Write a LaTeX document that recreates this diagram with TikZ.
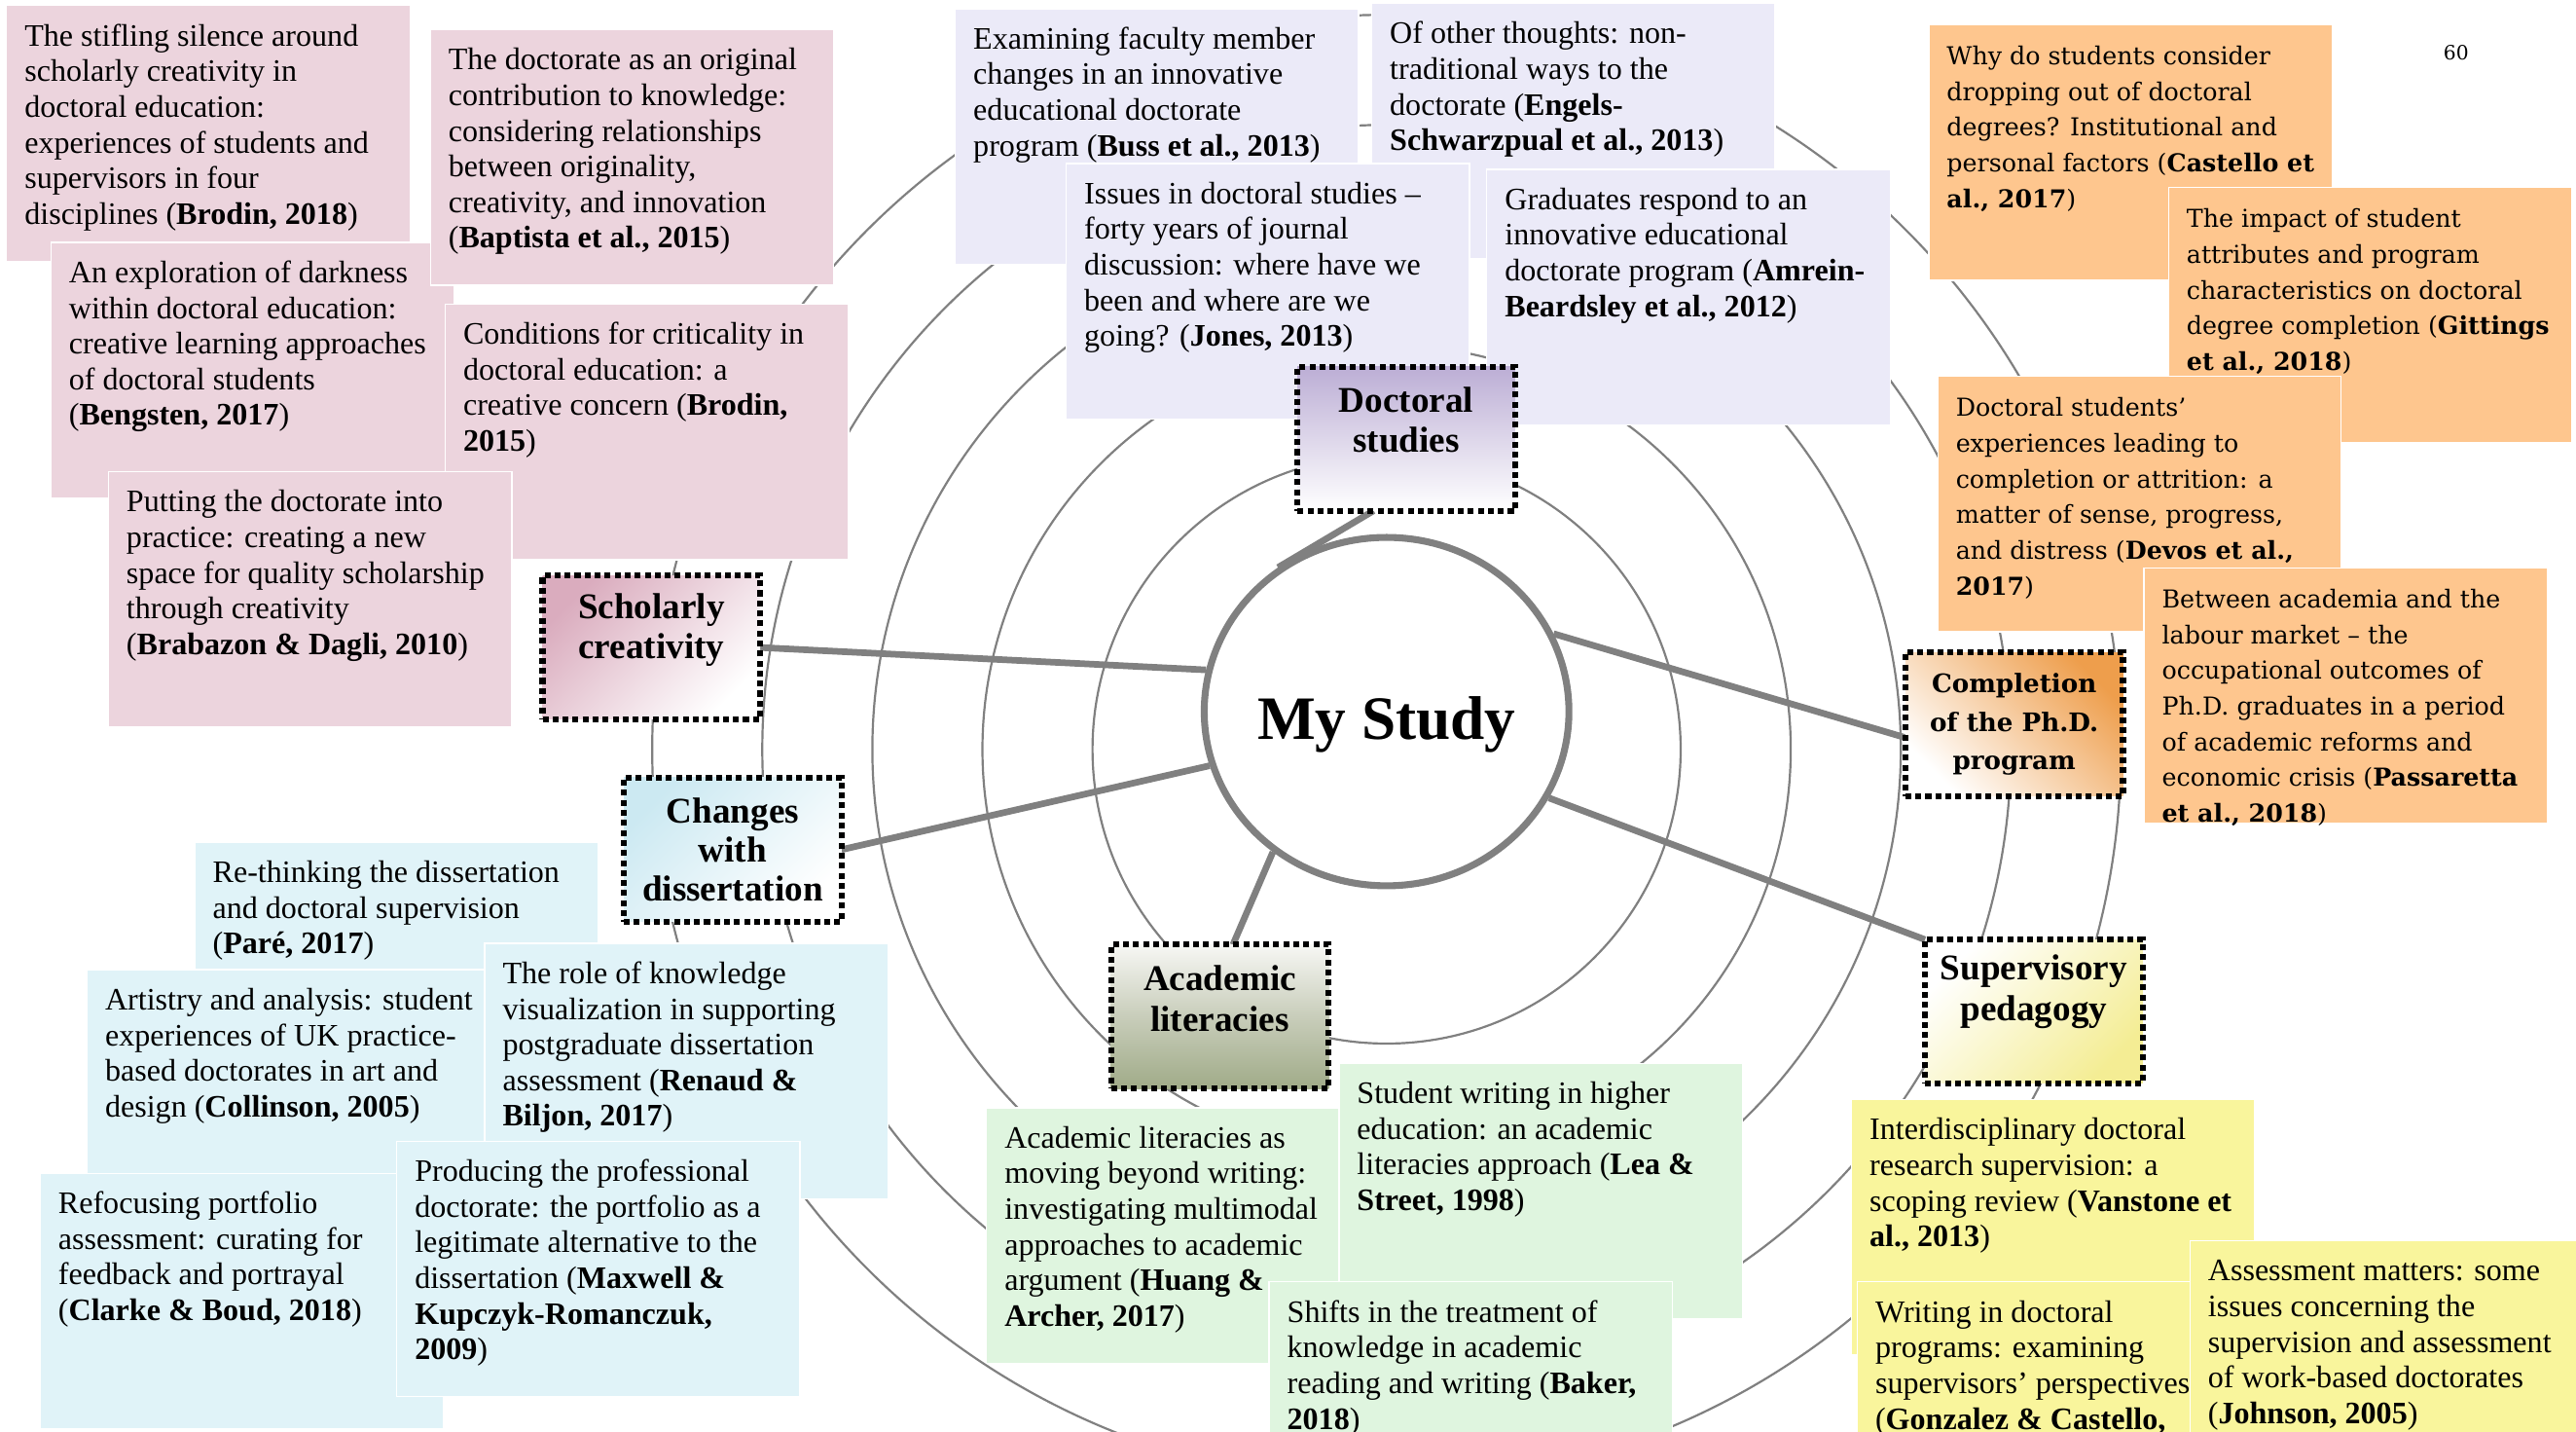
\documentclass[tikz,border=0pt]{standalone}
\usepackage{fontspec}
\setmainfont{Liberation Serif}
\newfontfamily\cent{DejaVu Serif}
\usetikzlibrary{shapes.geometric,calc}
\pgfdeclarelayer{bg}
\pgfsetlayers{bg,main}

\definecolor{pk}{RGB}{236,212,221}
\definecolor{lv}{RGB}{235,234,248}
\definecolor{og}{RGB}{254,198,142}
\definecolor{cy}{RGB}{224,243,248}
\definecolor{gr}{RGB}{223,245,223}
\definecolor{yl}{RGB}{249,245,156}
\definecolor{lg}{RGB}{128,128,128}
\definecolor{pkD}{RGB}{218,172,190}
\definecolor{lvD}{RGB}{188,174,213}
\definecolor{ogD}{RGB}{238,158,76}
\definecolor{cyD}{RGB}{204,233,242}
\definecolor{alT}{RGB}{247,247,244}
\definecolor{alM}{RGB}{200,205,186}
\definecolor{grD}{RGB}{160,171,136}
\definecolor{ylD}{RGB}{244,237,148}

\newcommand{\tbx}[1]{\parbox[t]{250pt}{\raggedright\fontsize{19}{21.7}\selectfont #1}}
\newcommand{\tbo}[1]{\parbox[t]{250pt}{\raggedright\cent\fontsize{15}{21.7}\selectfont #1}}

\begin{document}
\begin{tikzpicture}[x=1pt,y=-1pt,
  tbox/.style={anchor=north west, inner sep=0pt, outer sep=0pt, minimum width=245.5pt, minimum height=155.5pt, draw=white, line width=0.8pt},
  ttext/.style={anchor=base west, inner sep=0pt, outer sep=0pt},
  topic/.style={draw=black, line width=3.6pt, dash pattern=on 3.6pt off 2.5pt, minimum width=132.5pt, minimum height=87.5pt, inner sep=0pt, outer sep=0pt},
  lbl/.style={align=center, inner sep=0pt, font=\bfseries\fontsize{22}{24.5}\selectfont},
  ring/.style={draw=lg, line width=1.3pt},
  conn/.style={draw=lg, line width=4pt},
]
\useasboundingbox (0,0) rectangle (1568,871);

% main circle
\node[ellipse, draw=lg, line width=4.2pt, fill=white, minimum width=222pt, minimum height=212pt, inner sep=0pt] (my) at (844,433) {};
\node[font=\bfseries\fontsize{37.5}{40}\selectfont, anchor=base, inner sep=0pt] (myt) at (844,450) {My Study};

% pink boxes
\node[tbox, fill=pk] (p1) at (4,3.4) {};
\node[ttext] (p1t) at ([shift={(11,24.5)}]p1.north west) {\tbx{The stifling silence around\\scholarly creativity in\\doctoral education:\\experiences of students and\\supervisors in four\\disciplines (\textbf{Brodin, 2018})}};
\node[tbox, fill=pk] (p3) at (31,147.5) {};
\node[ttext] (p3t) at ([shift={(11,24.5)}]p3.north west) {\tbx{An exploration of darkness\\within doctoral education:\\creative learning approaches\\of doctoral students\\(\textbf{Bengsten, 2017})}};
\node[tbox, fill=pk] (p2) at (262,18) {};
\node[ttext] (p2t) at ([shift={(11,24.5)}]p2.north west) {\tbx{The doctorate as an original\\contribution to knowledge:\\considering relationships\\between originality,\\creativity, and innovation\\(\textbf{Baptista et al., 2015})}};
\node[tbox, fill=pk] (p4) at (271,185) {};
\node[ttext] (p4t) at ([shift={(11,24.5)}]p4.north west) {\tbx{Conditions for criticality in\\doctoral education: a\\creative concern (\textbf{Brodin,}\\\textbf{2015})}};
\node[tbox, fill=pk] (p5) at (66,287) {};
\node[ttext] (p5t) at ([shift={(11,24.5)}]p5.north west) {\tbx{Putting the doctorate into\\practice: creating a new\\space for quality scholarship\\through creativity\\(\textbf{Brabazon \& Dagli, 2010})}};

% lavender boxes
\node[tbox, fill=lv] (b1) at (581.5,5.3) {};
\node[ttext] (b1t) at ([shift={(11,24.5)}]b1.north west) {\tbx{Examining faculty member\\changes in an innovative\\educational doctorate\\program (\textbf{Buss et al., 2013})}};
\node[tbox, fill=lv] (b2) at (835,2) {};
\node[ttext] (b2t) at ([shift={(11,24.5)}]b2.north west) {\tbx{Of other thoughts: non-\\traditional ways to the\\doctorate (\textbf{Engels-}\\\textbf{Schwarzpual et al., 2013})}};
\node[tbox, fill=lv] (b3) at (649,99.5) {};
\node[ttext] (b3t) at ([shift={(11,24.5)}]b3.north west) {\tbx{Issues in doctoral studies –\\forty years of journal\\discussion: where have we\\been and where are we\\going? (\textbf{Jones, 2013})}};
\node[tbox, fill=lv] (b4) at (905,103) {};
\node[ttext] (b4t) at ([shift={(11,24.5)}]b4.north west) {\tbx{Graduates respond to an\\innovative educational\\doctorate program (\textbf{Amrein-}\\\textbf{Beardsley et al., 2012})}};

% orange boxes
\node[tbox, fill=og] (o1) at (1174,15) {};
\node[ttext] (o1t) at ([shift={(11,24.5)}]o1.north west) {\tbo{Why do students consider\\dropping out of doctoral\\degrees? Institutional and\\personal factors (\textbf{Castello et}\\\textbf{al., 2017})}};
\node[tbox, fill=og] (o2) at (1320,114) {};
\node[ttext] (o2t) at ([shift={(11,24.5)}]o2.north west) {\tbo{The impact of student\\attributes and program\\characteristics on doctoral\\degree completion (\textbf{Gittings}\\\textbf{et al., 2018})}};
\node[tbox, fill=og] (o3) at (1179.5,229) {};
\node[ttext] (o3t) at ([shift={(11,24.5)}]o3.north west) {\tbo{Doctoral students’\\experiences leading to\\completion or attrition: a\\matter of sense, progress,\\and distress (\textbf{Devos et al.,}\\\textbf{2017})}};
\node[tbox, fill=og] (o4) at (1305,345.5) {};
\node[ttext] (o4t) at ([shift={(11,24.5)}]o4.north west) {\tbo{Between academia and the\\labour market – the\\occupational outcomes of\\Ph.D. graduates in a period\\of academic reforms and\\economic crisis (\textbf{Passaretta}\\\textbf{et al., 2018})}};

% cyan boxes
\node[tbox, fill=cy] (c1) at (118.5,512.5) {};
\node[ttext] (c1t) at ([shift={(11,24.5)}]c1.north west) {\tbx{Re-thinking the dissertation\\and doctoral supervision\\(\textbf{Paré, 2017})}};
\node[tbox, fill=cy] (c2) at (53,590) {};
\node[ttext] (c2t) at ([shift={(11,24.5)}]c2.north west) {\tbx{Artistry and analysis: student\\experiences of UK practice-\\based doctorates in art and\\design (\textbf{Collinson, 2005})}};
\node[tbox, fill=cy] (c3) at (295,574) {};
\node[ttext] (c3t) at ([shift={(11,24.5)}]c3.north west) {\tbx{The role of knowledge\\visualization in supporting\\postgraduate dissertation\\assessment (\textbf{Renaud \&}\\\textbf{Biljon, 2017})}};
\node[tbox, fill=cy] (c4) at (24.5,714) {};
\node[ttext] (c4t) at ([shift={(11,24.5)}]c4.north west) {\tbx{Refocusing portfolio\\assessment: curating for\\feedback and portrayal\\(\textbf{Clarke \& Boud, 2018})}};
\node[tbox, fill=cy] (c5) at (241.5,694.4) {};
\node[ttext] (c5t) at ([shift={(11,24.5)}]c5.north west) {\tbx{Producing the professional\\doctorate: the portfolio as a\\legitimate alternative to the\\dissertation (\textbf{Maxwell \&}\\\textbf{Kupczyk-Romanczuk,}\\\textbf{2009})}};

% green boxes
\node[tbox, fill=gr] (g1) at (600.5,674) {};
\node[ttext] (g1t) at ([shift={(11,24.5)}]g1.north west) {\tbx{Academic literacies as\\moving beyond writing:\\investigating multimodal\\approaches to academic\\argument (\textbf{Huang \&}\\\textbf{Archer, 2017})}};
\node[tbox, fill=gr] (g2) at (815,647) {};
\node[ttext] (g2t) at ([shift={(11,24.5)}]g2.north west) {\tbx{Student writing in higher\\education: an academic\\literacies approach (\textbf{Lea \&}\\\textbf{Street, 1998})}};
\node[tbox, fill=gr] (g3) at (772.5,780) {};
\node[ttext] (g3t) at ([shift={(11,24.5)}]g3.north west) {\tbx{Shifts in the treatment of\\knowledge in academic\\reading and writing (\textbf{Baker,}\\\textbf{2018})}};

% yellow boxes
\node[tbox, fill=yl] (y1) at (1127,669) {};
\node[ttext] (y1t) at ([shift={(11,24.5)}]y1.north west) {\tbx{Interdisciplinary doctoral\\research supervision: a\\scoping review (\textbf{Vanstone et}\\\textbf{al., 2013})}};
\node[tbox, fill=yl] (y2) at (1130.5,780) {};
\node[ttext] (y2t) at ([shift={(11,24.5)}]y2.north west) {\tbx{Writing in doctoral\\programs: examining\\supervisors’ perspectives\\(\textbf{Gonzalez \& Castello,}}};
\node[tbox, fill=yl] (y3) at (1333,755) {};
\node[ttext] (y3t) at ([shift={(11,24.5)}]y3.north west) {\tbx{Assessment matters: some\\issues concerning the\\supervision and assessment\\of work-based doctorates\\(\textbf{Johnson, 2005})}};

% topic boxes
\node[topic, top color=pkD, bottom color=white, shading angle=45] (sc) at (396.5,394) {};
\node[lbl] (sct) at ([yshift=10.5pt]sc.center) {Scholarly\\creativity};
\node[topic, top color=lvD, bottom color=white, middle color=lvD!50] (ds) at (856,267) {};
\node[lbl] (dst) at ([yshift=11.5pt]ds.center) {Doctoral\\studies};
\node[topic, top color=cyD, bottom color=white, shading angle=45] (ch) at (446,517) {};
\node[lbl, font=\bfseries\fontsize{22}{23.5}\selectfont] (cht) at (ch.center) {Changes\\with\\dissertation};
\node[topic, top color=ogD, bottom color=white, shading angle=-45] (cp) at (1226,440.7) {};
\node[lbl, font=\cent\bfseries\fontsize{15.5}{23.5}\selectfont] (cpt) at (cp.center) {Completion\\of the Ph.D.\\program};
\node[topic, top color=alT, bottom color=grD, middle color=alM] (al) at (742.5,618.6) {};
\node[lbl] (alt) at ([yshift=11pt]al.center) {Academic\\literacies};
\node[topic, top color=white, bottom color=ylD, shading angle=45] (sp) at (1238,615.5) {};
\node[lbl] (spt) at ([yshift=12pt]sp.center) {Supervisory\\pedagogy};

% page number
\node[font=\cent\fontsize{12}{14}\selectfont, inner sep=0pt] (pg) at (1495,32) {60};

% rings and connectors underneath
\begin{pgfonlayer}{bg}
\foreach \r in {179,246,313,380,447} \draw[ring] (844,456) circle [radius=\r];
\draw[conn] (sc.east) -- (my.167);
\draw[conn] (ch.east) -- (my.197);
\draw[conn] ($(ds.south west)!0.35!(ds.south east)$) -- (my.127);
\draw[conn] (my.231) -- ($(al.north west)!0.56!(al.north east)$);
\draw[conn] (my.25) -- (cp.187);
\draw[conn] (my.-28) -- (sp.north west);
\end{pgfonlayer}
\end{tikzpicture}
\end{document}
